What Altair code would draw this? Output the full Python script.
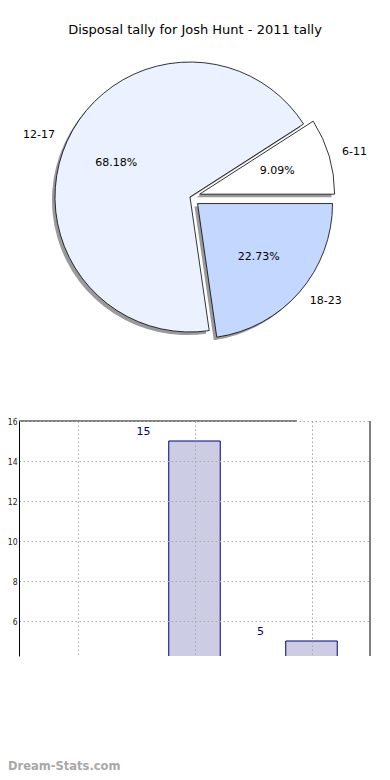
import math
import altair as alt
import pandas as pd

# ---- data ----
labels = ["6-11", "12-17", "18-23"]
values = [2, 15, 5]
pie_colors = ["#ffffff", "#ebf1fe", "#c4d7fe"]
explode_px = [10, 0, 10]
title_text = "Disposal tally for Josh Hunt - 2011 tally"
y_ticks = [6, 8, 10, 12, 14, 16]
watermark = "Dream-Stats.com"

# ---- layout (pixels, relative to the bar plot area origin) ----
W, H = 351, 235
CX, CY, R = 171, -224, 135
FONT = "DejaVu Sans"

total = sum(values)
layers = []
shadow_layers = []
text_layers = []
a0 = 0.0
for lab, v, col, e in zip(labels, values, pie_colors, explode_px):
    a1 = a0 + 360.0 * v / total
    mid = math.radians((a0 + a1) / 2)
    dx, dy = e * math.cos(mid), -e * math.sin(mid)
    cx, cy = CX + dx, CY + dy
    df = pd.DataFrame({"label": [lab], "value": [v],
                       "t0": [math.radians(90 - a1)], "t1": [math.radians(90 - a0)],
                       "pct": [f"{v / total * 100:.2f}%"]})
    base = alt.Chart(df)
    shadow_layers.append(
        base.mark_arc(radius=R, color="#9a9a9a", strokeWidth=0).encode(
            theta=alt.Theta("t0:Q", scale=None), theta2="t1:Q",
            x=alt.value(cx - 3), y=alt.value(cy + 3)))
    layers.append(
        base.mark_arc(radius=R, color=col, stroke="black", strokeWidth=0.8).encode(
            theta=alt.Theta("t0:Q", scale=None), theta2="t1:Q",
            x=alt.value(cx), y=alt.value(cy)))
    lx = cx + 1.1 * R * math.cos(mid)
    ly = cy - 1.1 * R * math.sin(mid)
    text_layers.append(
        base.mark_text(font=FONT, fontSize=11, color="black",
                       align="left" if math.cos(mid) >= 0 else "right",
                       baseline="middle").encode(
            text="label:N", x=alt.value(lx), y=alt.value(ly)))
    px = cx + 0.6 * R * math.cos(mid)
    py = cy - 0.6 * R * math.sin(mid)
    text_layers.append(
        base.mark_text(font=FONT, fontSize=11, color="black",
                       align="center", baseline="middle").encode(
            text="pct:N", x=alt.value(px), y=alt.value(py)))
    a0 = a1

title_df = pd.DataFrame({"t": [title_text]})
title_layer = alt.Chart(title_df).mark_text(
    font=FONT, fontSize=13, color="black", align="center", baseline="middle"
).encode(text="t:N", x=alt.value(176), y=alt.value(-391))

wm_df = pd.DataFrame({"t": [watermark]})
wm_layer = alt.Chart(wm_df).mark_text(
    font=FONT, fontSize=11.5, fontWeight="bold", color="#a8a8a8", align="left",
    baseline="alphabetic"
).encode(text="t:N", x=alt.value(-11), y=alt.value(349))

# ---- bar chart ----
bar_df = pd.DataFrame({"label": labels, "value": values})
bar_base = alt.Chart(bar_df).transform_window(
    idx="row_number()"
).transform_calculate(
    xc="datum.idx - 0.5", x0="datum.idx - 0.72", x1="datum.idx - 0.28",
    xt="datum.idx - 0.935", yt="datum.value + 0.2"
)

xscale = alt.Scale(domain=[0, 3], nice=False, zero=False)
yscale = alt.Scale(domain=[4.25, 16], nice=False, zero=False)

bars = bar_base.mark_bar(
    color="#ccccE4", stroke="#000080", strokeWidth=1, clip=True
).encode(
    x=alt.X("x0:Q", scale=xscale,
            axis=alt.Axis(values=[0.5, 1.5, 2.5], grid=True, labels=False, ticks=False,
                          domain=False, title=None, gridDash=[1.5, 2.5],
                          gridColor="#a8a8a8", zindex=1)),
    x2="x1:Q",
    y=alt.Y("value:Q", scale=yscale,
            axis=alt.Axis(values=y_ticks, grid=True, gridDash=[1.5, 2.5], gridColor="#a8a8a8",
                          ticks=False, domainColor="black", domainWidth=1,
                          labelFont="DejaVu Sans Condensed", labelFontSize=8.5,
                          labelColor="#222222", labelPadding=2, title=None, zindex=1)),
    y2=alt.Y2(datum=0),
)

bar_text = bar_base.mark_text(
    font=FONT, fontSize=11, color="#000080", align="center", baseline="bottom", clip=True
).encode(
    x=alt.X("xt:Q", scale=xscale), y=alt.Y("yt:Q", scale=yscale), text="value:Q"
)

top_spine = alt.Chart(title_df).mark_rule(color="black", strokeWidth=1).encode(
    x=alt.value(0), x2=alt.value(278), y=alt.value(0))
right_spine = alt.Chart(title_df).mark_rule(color="black", strokeWidth=1).encode(
    x=alt.value(W), y=alt.value(0), y2=alt.value(H))

chart = alt.layer(
    bars, bar_text, top_spine, right_spine,
    *shadow_layers, *layers, *text_layers, title_layer, wm_layer
).properties(
    width=W, height=H,
    autosize=alt.AutoSizeParams(type="none"),
    padding={"left": 11, "top": 413, "right": 12, "bottom": 116},
).configure_view(stroke=None)

chart.save("out.html", embed_options={"renderer": "svg", "actions": False})
